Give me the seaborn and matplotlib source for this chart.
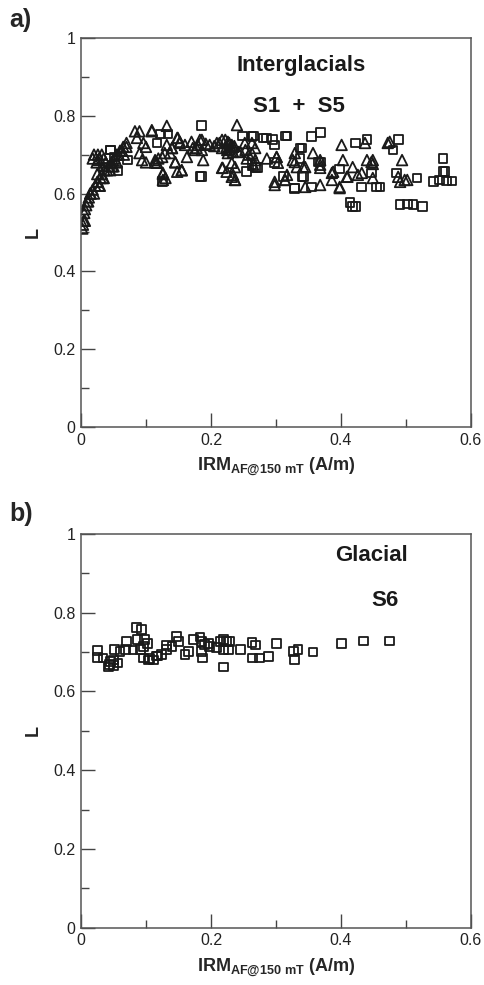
import numpy as np
import pandas as pd
import matplotlib
matplotlib.use("Agg")
import matplotlib.pyplot as plt
import seaborn as sns

# Panel a - interglacials, triangles (S1) and squares (S5)
tri_x = [0.002, 0.003, 0.004, 0.005, 0.006, 0.006, 0.008, 0.010, 0.011, 0.012, 0.014, 0.015,
         0.018, 0.020, 0.022, 0.025, 0.025, 0.026, 0.028, 0.029, 0.030, 0.032, 0.034, 0.035,
         0.036, 0.040, 0.042, 0.045, 0.047, 0.048, 0.049, 0.050, 0.052, 0.055, 0.055, 0.058,
         0.060, 0.063, 0.065, 0.066, 0.070, 0.070, 0.018, 0.020, 0.024, 0.026, 0.026, 0.028,
         0.032, 0.035, 0.038,
         0.083, 0.086, 0.090, 0.090, 0.094, 0.096, 0.100, 0.100, 0.109, 0.109, 0.114, 0.114,
         0.117, 0.119, 0.125, 0.126, 0.126, 0.126, 0.129, 0.130, 0.132, 0.132, 0.137, 0.140,
         0.140, 0.145, 0.145, 0.148, 0.148, 0.149, 0.152, 0.152, 0.155, 0.155, 0.163, 0.170,
         0.172, 0.178, 0.180, 0.183, 0.186, 0.186, 0.188, 0.198, 0.209, 0.217, 0.217, 0.217,
         0.218, 0.222, 0.224, 0.224, 0.225, 0.226, 0.226, 0.228, 0.232, 0.232, 0.232, 0.234,
         0.234, 0.234, 0.237, 0.237, 0.237, 0.240, 0.242, 0.245, 0.252, 0.253, 0.255, 0.263,
         0.263, 0.265, 0.268, 0.268, 0.286, 0.298, 0.298, 0.301, 0.301, 0.303, 0.314, 0.314,
         0.317, 0.326, 0.329, 0.329, 0.332, 0.342, 0.345, 0.345, 0.357, 0.368, 0.368, 0.368,
         0.368, 0.386, 0.386, 0.388, 0.398, 0.398, 0.401, 0.403, 0.409, 0.410, 0.418, 0.426,
         0.432, 0.437, 0.440, 0.447, 0.449, 0.449, 0.449, 0.472, 0.475, 0.488, 0.491, 0.494,
         0.498, 0.502,
         0.160, 0.175, 0.192, 0.205, 0.213, 0.228, 0.236, 0.258]
tri_y = [0.51, 0.52, 0.53, 0.55, 0.56, 0.53, 0.57, 0.58, 0.58, 0.59, 0.60, 0.60,
         0.61, 0.60, 0.62, 0.63, 0.65, 0.63, 0.62, 0.62, 0.64, 0.65, 0.64, 0.64,
         0.66, 0.66, 0.67, 0.66, 0.68, 0.67, 0.686, 0.67, 0.69, 0.68, 0.70, 0.70,
         0.71, 0.71, 0.72, 0.70, 0.72, 0.73, 0.69, 0.70, 0.68, 0.70, 0.686, 0.69,
         0.70, 0.69, 0.68,
         0.76, 0.743, 0.76, 0.704, 0.686, 0.73, 0.72, 0.68, 0.76, 0.763, 0.68, 0.686,
         0.679, 0.69, 0.694, 0.65, 0.653, 0.635, 0.704, 0.64, 0.774, 0.725, 0.704, 0.717,
         0.717, 0.68, 0.681, 0.743, 0.656, 0.743, 0.733, 0.73, 0.66, 0.66, 0.694, 0.733,
         0.717, 0.717, 0.725, 0.738, 0.738, 0.712, 0.686, 0.725, 0.73, 0.738, 0.717, 0.666,
         0.666, 0.738, 0.72, 0.656, 0.712, 0.733, 0.704, 0.73, 0.725, 0.679, 0.643, 0.707,
         0.648, 0.72, 0.635, 0.668, 0.635, 0.776, 0.707, 0.707, 0.73, 0.712, 0.69, 0.73,
         0.704, 0.674, 0.717, 0.686, 0.69, 0.622, 0.63, 0.694, 0.694, 0.679, 0.635, 0.635,
         0.648, 0.686, 0.704, 0.681, 0.668, 0.668, 0.668, 0.617, 0.704, 0.686, 0.674, 0.666,
         0.622, 0.653, 0.635, 0.656, 0.617, 0.614, 0.725, 0.686, 0.643, 0.643, 0.668, 0.648,
         0.653, 0.73, 0.686, 0.681, 0.686, 0.676, 0.64, 0.73, 0.733, 0.643, 0.63, 0.686,
         0.635, 0.635,
         0.725, 0.712, 0.728, 0.722, 0.730, 0.715, 0.722, 0.700]

sq_x = [0.034, 0.045, 0.046, 0.052, 0.057, 0.072, 0.117, 0.122, 0.126, 0.134, 0.183, 0.186,
        0.186, 0.248, 0.255, 0.263, 0.263, 0.265, 0.268, 0.271, 0.280, 0.286, 0.295, 0.298,
        0.298, 0.311, 0.315, 0.317, 0.328, 0.329, 0.337, 0.337, 0.340, 0.340, 0.342, 0.355,
        0.355, 0.365, 0.368, 0.368, 0.398, 0.414, 0.418, 0.422, 0.422, 0.432, 0.440, 0.447,
        0.455, 0.460, 0.480, 0.486, 0.488, 0.491, 0.502, 0.511, 0.517, 0.526, 0.542, 0.552,
        0.557, 0.557, 0.560, 0.563, 0.571]
sq_y = [0.668, 0.712, 0.712, 0.694, 0.66, 0.686, 0.73, 0.753, 0.63, 0.753, 0.643, 0.774,
        0.643, 0.748, 0.656, 0.746, 0.674, 0.748, 0.666, 0.666, 0.743, 0.743, 0.738, 0.725,
        0.679, 0.643, 0.748, 0.748, 0.612, 0.614, 0.717, 0.69, 0.643, 0.717, 0.643, 0.746,
        0.617, 0.681, 0.756, 0.681, 0.663, 0.576, 0.566, 0.73, 0.566, 0.617, 0.738, 0.653,
        0.617, 0.617, 0.712, 0.653, 0.738, 0.571, 0.573, 0.571, 0.64, 0.566, 0.63, 0.635,
        0.69, 0.656, 0.656, 0.632, 0.632]

# Panel b - glacial S6, squares
gl_x = [0.025, 0.025, 0.034, 0.042, 0.044, 0.045, 0.050, 0.050, 0.052, 0.057, 0.060, 0.068,
        0.070, 0.080, 0.085, 0.087, 0.091, 0.093, 0.096, 0.096, 0.098, 0.102, 0.104, 0.105,
        0.111, 0.116, 0.118, 0.124, 0.132, 0.132, 0.140, 0.147, 0.150, 0.160, 0.165, 0.173,
        0.183, 0.186, 0.186, 0.187, 0.190, 0.196, 0.198, 0.209, 0.214, 0.219, 0.219, 0.219,
        0.224, 0.227, 0.229, 0.245, 0.263, 0.264, 0.268, 0.275, 0.288, 0.301, 0.327, 0.329,
        0.334, 0.357, 0.401, 0.435, 0.475]
gl_y = [0.703, 0.686, 0.685, 0.662, 0.668, 0.676, 0.68, 0.665, 0.706, 0.672, 0.701, 0.706,
        0.727, 0.705, 0.762, 0.731, 0.706, 0.757, 0.714, 0.685, 0.731, 0.721, 0.68, 0.683,
        0.68, 0.69, 0.69, 0.693, 0.718, 0.706, 0.714, 0.739, 0.727, 0.693, 0.701, 0.731,
        0.738, 0.727, 0.701, 0.685, 0.72, 0.722, 0.714, 0.711, 0.727, 0.731, 0.706, 0.662,
        0.727, 0.706, 0.727, 0.706, 0.724, 0.685, 0.718, 0.685, 0.689, 0.721, 0.701, 0.682,
        0.707, 0.70, 0.722, 0.728, 0.728]

x_ticks = [0, 0.2, 0.4, 0.6]
x_labels = ['0', '0.2', '0.4', '0.6']
y_ticks = [0, 0.2, 0.4, 0.6, 0.8, 1.0]
y_labels = ['0', '0.2', '0.4', '0.6', '0.8', '1']

sns.set_theme(style="white")
plt.rcParams['font.family'] = ['Liberation Sans', 'DejaVu Sans']
plt.rcParams['mathtext.fontset'] = 'custom'
plt.rcParams['mathtext.rm'] = 'Liberation Sans'
plt.rcParams['mathtext.bf'] = 'Liberation Sans:bold'

fig = plt.figure(figsize=(4.85, 9.85), dpi=100)
ax_a = fig.add_axes([0.167, 0.5665, 0.804, 0.395])
ax_b = fig.add_axes([0.167, 0.058, 0.804, 0.400])

mk = dict(facecolor='none', edgecolor='#1a1a1a', linewidth=1.3, legend=False)
sns.scatterplot(x=tri_x, y=tri_y, marker='^', s=58, ax=ax_a, **mk)
sns.scatterplot(x=sq_x, y=sq_y, marker='s', s=40, ax=ax_a, **mk)
sns.scatterplot(x=gl_x, y=gl_y, marker='s', s=40, ax=ax_b, **mk)

xlab = r'$\mathbf{IRM_{AF@150\ mT}}$ (A/m)'
for ax in (ax_a, ax_b):
    ax.set_xlim(0, 0.6)
    ax.set_ylim(0, 1)
    ax.set_xticks(x_ticks, labels=x_labels)
    ax.set_xticks([0.1, 0.3, 0.5], minor=True)
    ax.set_yticks(y_ticks, labels=y_labels)
    ax.set_yticks([0.1, 0.3, 0.5, 0.7, 0.9], minor=True)
    ax.tick_params(which='major', direction='in', length=10, width=1, color='#444',
                   labelsize=11.5, labelcolor='#222', left=True, bottom=True, pad=4)
    ax.tick_params(which='minor', direction='in', length=6, width=1, color='#444',
                   left=True, bottom=True)
    for sp in ax.spines.values():
        sp.set_color('#555')
        sp.set_linewidth(1.1)
    ax.set_xlabel(xlab, fontsize=13, fontweight='bold', labelpad=6)
    ax.set_ylabel('L', fontsize=13, fontweight='bold', labelpad=8)

ax_a.text(0.565, 0.93, 'Interglacials', transform=ax_a.transAxes, ha='center',
          va='center', fontsize=16, fontweight='bold', color='#1a1a1a')
ax_a.text(0.56, 0.825, 'S1  +  S5', transform=ax_a.transAxes, ha='center',
          va='center', fontsize=16, fontweight='bold', color='#1a1a1a')
ax_b.text(0.745, 0.945, 'Glacial', transform=ax_b.transAxes, ha='center',
          va='center', fontsize=16, fontweight='bold', color='#1a1a1a')
ax_b.text(0.78, 0.83, 'S6', transform=ax_b.transAxes, ha='center',
          va='center', fontsize=16, fontweight='bold', color='#1a1a1a')

fig.text(0.02, 0.980, 'a)', fontsize=18, fontweight='bold', va='center')
fig.text(0.02, 0.478, 'b)', fontsize=18, fontweight='bold', va='center')

fig.savefig('out.png', dpi=100)
